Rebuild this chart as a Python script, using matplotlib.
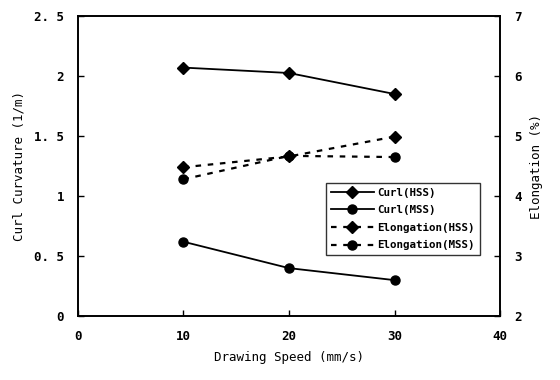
import matplotlib
matplotlib.use("Agg")
import matplotlib.pyplot as plt
from matplotlib.ticker import FixedLocator, FixedFormatter

speed = [10, 20, 30]
curl_hss = [2.07, 2.025, 1.85]
curl_mss = [0.62, 0.40, 0.30]
elong_hss = [4.48, 4.66, 4.99]
elong_mss = [4.28, 4.67, 4.65]

left_ticks = [0, 0.5, 1, 1.5, 2, 2.5]
left_labels = ["0", "0. 5", "1", "1. 5", "2", "2. 5"]
right_ticks = [2, 3, 4, 5, 6, 7]
x_ticks = [0, 10, 20, 30, 40]

plt.rcParams['font.family'] = ['DejaVu Sans Mono']
plt.rcParams['font.weight'] = 'bold'
fs = 9

fig = plt.figure(figsize=(5.6, 3.8), dpi=100)
ax = fig.add_axes([0.139, 0.168, 0.754, 0.790])
ax2 = ax.twinx()

l1, = ax.plot(speed, curl_hss, color='black', lw=1.3, marker='D', ms=6, label='Curl(HSS)')
l2, = ax.plot(speed, curl_mss, color='black', lw=1.3, marker='o', ms=6.5, label='Curl(MSS)')
l3, = ax2.plot(speed, elong_hss, color='black', lw=1.6, ls=(0, (2.5, 3)), marker='D', ms=6, label='Elongation(HSS)')
l4, = ax2.plot(speed, elong_mss, color='black', lw=1.6, ls=(0, (2.5, 3)), marker='o', ms=6.5, label='Elongation(MSS)')

ax.set_xlim(0, 40)
ax.set_ylim(0, 2.5)
ax2.set_ylim(2, 7)
ax.xaxis.set_major_locator(FixedLocator(x_ticks))
ax.yaxis.set_major_locator(FixedLocator(left_ticks))
ax.yaxis.set_major_formatter(FixedFormatter(left_labels))
ax2.yaxis.set_major_locator(FixedLocator(right_ticks))

ax.tick_params(axis='both', direction='in', length=4, labelsize=fs, width=1)
ax2.tick_params(axis='y', direction='in', length=4, labelsize=fs, width=1)
ax.tick_params(axis='x', pad=10)
ax.tick_params(axis='y', pad=10)
ax2.tick_params(axis='y', pad=10)

ax.set_xlabel('Drawing Speed (mm/s)', fontsize=fs, labelpad=6)
ax.set_ylabel('Curl Curvature (1/m)', fontsize=fs, labelpad=6)
ax2.set_ylabel('Elongation (%)', fontsize=fs, labelpad=6)

for a in (ax, ax2):
    for s in a.spines.values():
        s.set_linewidth(1.2)

leg = ax.legend(handles=[l1, l2, l3, l4], loc='upper left',
                bbox_to_anchor=(0.582, 0.519), bbox_transform=fig.transFigure,
                fontsize=7.8, frameon=True, fancybox=False, edgecolor='black',
                handlelength=4.0, borderpad=0.45, labelspacing=0.7, handletextpad=0.3,
                borderaxespad=0)
leg.get_frame().set_linewidth(1.0)

fig.savefig('out.png', dpi=100)
